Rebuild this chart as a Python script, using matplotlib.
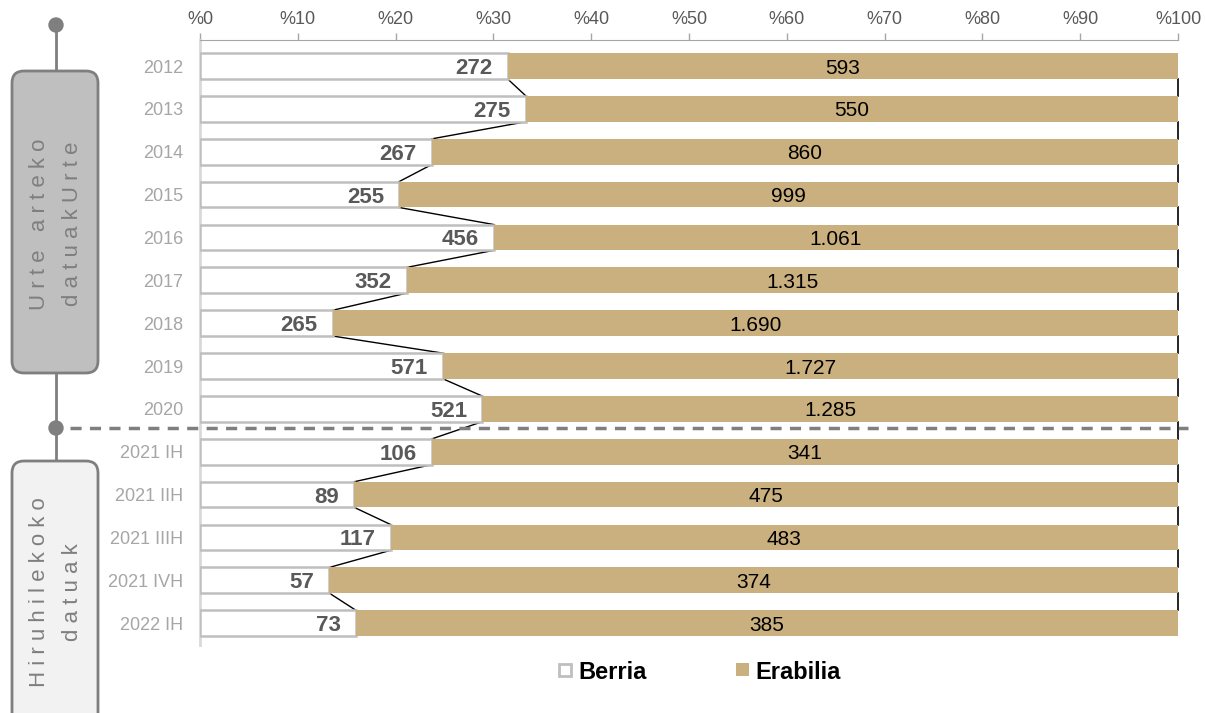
import matplotlib
matplotlib.use("Agg")
import matplotlib.pyplot as plt
from matplotlib.patches import FancyBboxPatch, Rectangle, Circle
import numpy as np

plt.rcParams['font.family'] = ['Liberation Sans', 'DejaVu Sans']

categories = ["2012", "2013", "2014", "2015", "2016", "2017", "2018", "2019", "2020",
              "2021 IH", "2021 IIH", "2021 IIIH", "2021 IVH", "2022 IH"]
berria = [272, 275, 267, 255, 456, 352, 265, 571, 521, 106, 89, 117, 57, 73]
erabilia = [593, 550, 860, 999, 1061, 1315, 1690, 1727, 1285, 341, 475, 483, 374, 385]
xtick_vals = [0, 10, 20, 30, 40, 50, 60, 70, 80, 90, 100]
xtick_labels = ["%" + str(v) for v in xtick_vals]
legend_labels = ["Berria", "Erabilia"]
box_texts = [("Urte arteko", "datuakUrte"), ("Hiruhilekoko", "datuak")]

TAN = "#CBB07F"
W, H = 1205, 713
fig = plt.figure(figsize=(W / 100, H / 100), dpi=100)

# main axes: x 200..1178 px, y 40..645 px
ax = fig.add_axes([200 / W, 1 - 645 / H, 978 / W, 605 / H])
n = len(categories)
y = np.arange(n)
b = np.array(berria, dtype=float)
e = np.array(erabilia, dtype=float)
tot = b + e
pb = b / tot * 100
pe = e / tot * 100
bh = 0.6

ax.barh(y, pb, height=bh, color="white", edgecolor="#BFBFBF", linewidth=1.8, zorder=3)
ax.barh(y, pe, left=pb, height=bh, color=TAN, edgecolor="none", zorder=3)

# series lines
for i in range(n - 1):
    ax.plot([pb[i], pb[i + 1]], [i + bh / 2, i + 1 - bh / 2], color="black", lw=1, zorder=2)
    ax.plot([100, 100], [i + bh / 2, i + 1 - bh / 2], color="black", lw=1.2, zorder=2,
            clip_on=False)

for i in range(n):
    ax.annotate(f"{berria[i]:,}".replace(",", "."), xy=(pb[i], i), xytext=(-15, 0),
                textcoords="offset pixels", ha="right", va="center_baseline",
                fontsize=16, fontweight="bold", color="#595959", zorder=4)
    ax.text(pb[i] + pe[i] / 2, i, f"{erabilia[i]:,}".replace(",", "."),
            ha="center", va="center_baseline", fontsize=15, color="black", zorder=4)

ax.set_xlim(0, 100)
ax.set_ylim(n - 1 + 0.51, -0.607)
ax.set_yticks(y)
ax.set_yticklabels(categories, fontsize=13, color="#A6A6A6")
ax.tick_params(axis="y", length=0, pad=12)
ax.xaxis.tick_top()
ax.set_xticks(xtick_vals)
ax.set_xticklabels(xtick_labels, fontsize=13, color="#595959")
ax.tick_params(axis="x", direction="out", length=5, color="#A6A6A6", width=1, pad=4)
for s in ["right", "bottom"]:
    ax.spines[s].set_visible(False)
ax.spines["top"].set_color("#A6A6A6")
ax.spines["left"].set_color("#D9D9D9")
ax.spines["left"].set_linewidth(2)

# overlay in pixel coordinates
ov = fig.add_axes([0, 0, 1, 1], facecolor="none")
ov.set_xlim(0, W)
ov.set_ylim(H, 0)
ov.axis("off")

g = "#7F7F7F"
ov.plot([56, 56], [25, 70], color=g, lw=2)
ov.plot([56, 56], [373, 460], color=g, lw=2)
ov.add_patch(Circle((56, 25), 7, color=g))
ov.add_patch(Circle((56, 428), 7, color=g))
ov.plot([70, 1188], [428, 428], color=g, lw=2.5, dashes=(3.2, 2.4))

ov.add_patch(FancyBboxPatch((12 + 12, 71 + 12), 86 - 24, 302 - 24,
                            boxstyle="round,pad=12", fc="#BFBFBF", ec=g, lw=2))
ov.add_patch(FancyBboxPatch((12 + 12, 461 + 12), 86 - 24, 300 - 24,
                            boxstyle="round,pad=12", fc="#F2F2F2", ec=g, lw=2))


def spaced(s):
    return " ".join(list(s))


for (l1, l2), cy in zip(box_texts, [224, 592]):
    ov.text(40, cy, spaced(l1), rotation=90, ha="center", va="center",
            fontsize=16, color=g)
    ov.text(72, cy, spaced(l2), rotation=90, ha="center", va="center",
            fontsize=16, color=g)

# legend
ov.add_patch(Rectangle((559, 664), 12, 12, fc="white", ec="#BFBFBF", lw=2))
ov.text(578, 670, legend_labels[0], ha="left", va="center_baseline", fontsize=17,
        fontweight="bold", color="black")
ov.add_patch(Rectangle((736, 663), 13, 13, fc=TAN, ec="none"))
ov.text(755, 670, legend_labels[1], ha="left", va="center_baseline", fontsize=17,
        fontweight="bold", color="black")

fig.savefig("out.png", dpi=100)
